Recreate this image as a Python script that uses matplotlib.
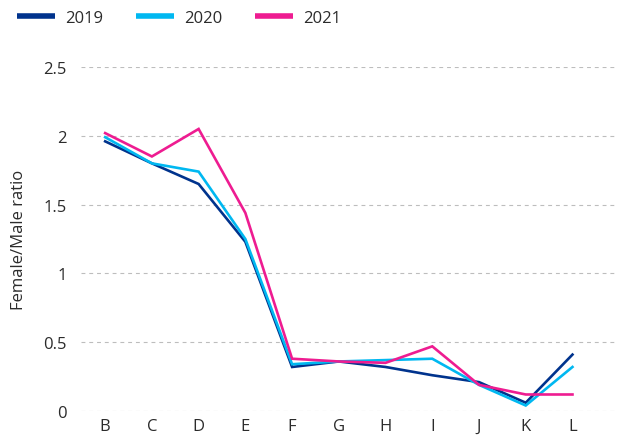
import numpy as np
import matplotlib.pyplot as plt

# === Chart data ===
categories = ['B', 'C', 'D', 'E', 'F', 'G', 'H', 'I', 'J', 'K', 'L']
ratio_2019 = [1.96, 1.80, 1.65, 1.23, 0.32, 0.36, 0.32, 0.26, 0.21, 0.06, 0.41]
ratio_2020 = [1.99, 1.80, 1.74, 1.25, 0.34, 0.36, 0.37, 0.38, 0.19, 0.04, 0.32]
ratio_2021 = [2.02, 1.85, 2.05, 1.44, 0.38, 0.36, 0.35, 0.47, 0.19, 0.12, 0.12]
y_ticks = [0, 0.5, 1, 1.5, 2, 2.5]
y_tick_labels = ['0', '0.5', '1', '1.5', '2', '2.5']

COLOR_2019 = '#00338D'
COLOR_2020 = '#00B8F1'
COLOR_2021 = '#EE1C91'
TEXT_COLOR = '#2B2B2B'

plt.rcParams['font.family'] = ['Open Sans', 'DejaVu Sans']

fig = plt.figure(figsize=(6.22, 4.39), dpi=100)
ax = fig.add_axes([0.130, 0.0615, 0.864, 0.7835])

x = np.arange(len(categories))
ax.plot(x, ratio_2019, color=COLOR_2019, linewidth=1.9, label='2019', solid_joinstyle='miter')
ax.plot(x, ratio_2020, color=COLOR_2020, linewidth=1.9, label='2020', solid_joinstyle='miter')
ax.plot(x, ratio_2021, color=COLOR_2021, linewidth=1.9, label='2021', solid_joinstyle='miter')

ax.set_xlim(-0.52, 10.98)
ax.set_ylim(0, 2.5)
ax.set_xticks(x)
ax.set_xticklabels(categories)
ax.set_yticks(y_ticks)
ax.set_yticklabels(y_tick_labels)
ax.tick_params(axis='both', length=0, labelsize=12, colors=TEXT_COLOR)
ax.tick_params(axis='y', pad=10)
ax.tick_params(axis='x', pad=5)

ax.grid(axis='y', linestyle=(0, (3.5, 3.5)), linewidth=0.8, color='#BDBDBD')
ax.set_axisbelow(True)
for spine in ax.spines.values():
    spine.set_visible(False)

ax.set_ylabel('Female/Male ratio', fontsize=12, color=TEXT_COLOR, labelpad=12)

# Legend across the top
legend = fig.legend(loc='upper left', bbox_to_anchor=(0.003, 1.01), ncol=3,
                    frameon=False, fontsize=12, handlelength=2.3,
                    handletextpad=0.6, columnspacing=1.95)
for line in legend.get_lines():
    line.set_linewidth(4)
    line.set_solid_capstyle('butt')
for text in legend.get_texts():
    text.set_color(TEXT_COLOR)

fig.savefig('out.png', dpi=100)
